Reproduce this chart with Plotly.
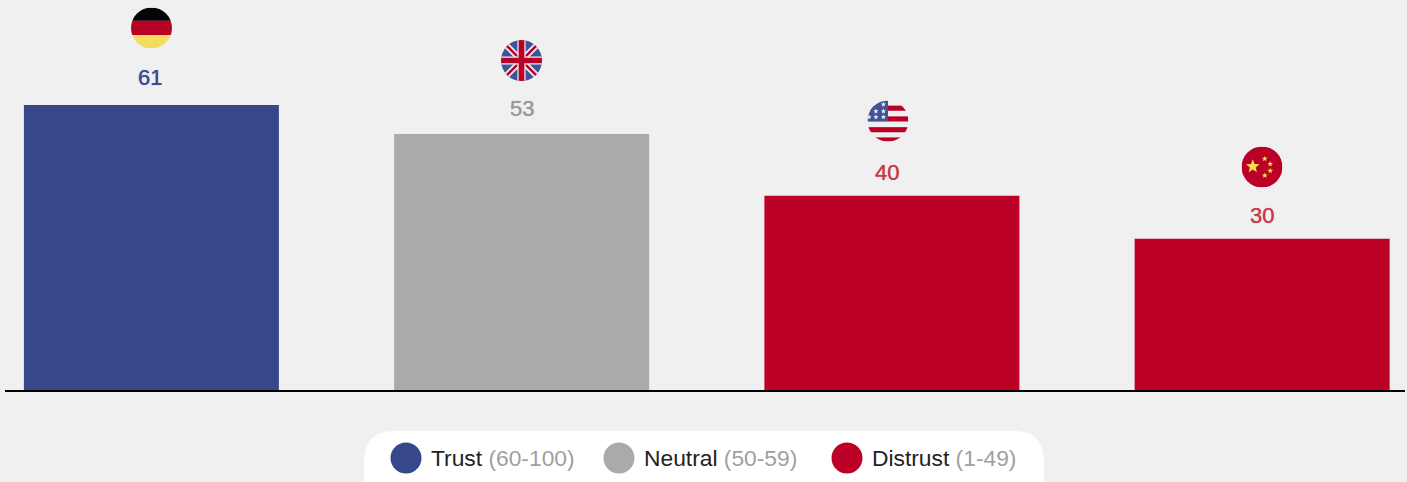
import base64
import math
import plotly.graph_objects as go

W, H = 1407, 482
ML, MR, MT, MB = 5, 2, 0, 92

countries = ["Germany", "United Kingdom", "United States", "China"]
scores = [61, 53, 40, 30]
# Bar lengths as drawn in the picture (they are not strictly proportional to the printed scores)
bar_lengths = [59.0, 53.0, 40.2, 31.3]
bands = ["Trust", "Neutral", "Distrust", "Distrust"]

legend_names = ["Trust", "Neutral", "Distrust"]
legend_ranges = ["(60-100)", "(50-59)", "(1-49)"]

BAND_COLOR = {"Trust": "#364889", "Neutral": "#aaaaaa", "Distrust": "#bc0026"}
LABEL_COLOR = {"Trust": "#3c4c8c", "Neutral": "#999999", "Distrust": "#c73a4c"}

PW, PH = W - ML - MR, H - MT - MB
STEP = 370.25
FIRST_CENTER = 151.4


def px(x):
    return (x - ML) / PW


def py(y):
    return 1 - (y - MT) / PH


def flag_uri(body):
    svg = (
        '<svg xmlns="http://www.w3.org/2000/svg" width="240" height="240" viewBox="0 0 40 40">'
        '<defs><clipPath id="c"><circle cx="20" cy="20" r="20"/></clipPath></defs>'
        f'<g clip-path="url(#c)">{body}</g></svg>'
    )
    return "data:image/svg+xml;base64," + base64.b64encode(svg.encode()).decode()


def star(cx, cy, r, fill):
    pts = []
    for i in range(10):
        a = -math.pi / 2 + i * math.pi / 5
        rr = r if i % 2 == 0 else r * 0.42
        pts.append(f"{cx + rr * math.cos(a):.2f},{cy + rr * math.sin(a):.2f}")
    return f'<polygon points="{" ".join(pts)}" fill="{fill}"/>'


de = (
    '<rect width="40" height="13" fill="#050505"/>'
    '<rect y="13" width="40" height="14" fill="#bb0027"/>'
    '<rect y="27" width="40" height="13" fill="#f3dc5e"/>'
)
uk = (
    '<rect width="40" height="40" fill="#3f5398"/>'
    '<path d="M0 0L40 40M40 0L0 40" stroke="#f0f0f0" stroke-width="6"/>'
    '<path d="M0 0L40 40M40 0L0 40" stroke="#bb0027" stroke-width="2.4"/>'
    '<path d="M20 0V40M0 20H40" stroke="#f0f0f0" stroke-width="8"/>'
    '<path d="M20 0V40M0 20H40" stroke="#bb0027" stroke-width="5.6"/>'
)
us_stripes = "".join(
    f'<rect y="{y}" width="40" height="5" fill="#bb0027"/>' for y in [5, 15.5, 26, 36]
)
us_stars = "".join(
    star(x, y, 2.7, "#f2f2f2")
    for x, y in [(15.5, 3.8), (8.2, 10.5), (15.5, 10.5), (1.5, 16.2), (8.2, 16.2), (15.5, 16.2)]
)
us = (
    '<rect width="40" height="40" fill="#f0f0f0"/>' + us_stripes
    + '<rect width="20" height="20" fill="#3f5398"/>' + us_stars
)
cn = (
    '<rect width="40" height="40" fill="#bb0027"/>'
    + star(11, 19.5, 7, "#f6dc4f")
    + star(22.7, 12, 3, "#f6dc4f")
    + star(28, 17, 3, "#f6dc4f")
    + star(28, 23.7, 3, "#f6dc4f")
    + star(22.7, 28.3, 3, "#f6dc4f")
)
flags = [de, uk, us, cn]
flag_centers = [(151.5, 28), (521.5, 60.5), (888, 121), (1262, 167)]
label_centers = [(150, 78), (521.5, 108), (887, 172), (1262, 215)]
legend_dots = [406, 619, 847]
legend_text_x = [429, 642, 870]

fig = go.Figure(
    go.Bar(
        x=countries,
        y=bar_lengths,
        width=255 / STEP,
        marker=dict(color=[BAND_COLOR[b] for b in bands], line=dict(width=0)),
        hoverinfo="skip",
    )
)

shapes = [
    dict(
        type="path",
        xref="paper",
        yref="paper",
        layer="below",
        fillcolor="#ffffff",
        line=dict(width=0),
        path=(
            f"M{px(394)},{py(431)} L{px(1014)},{py(431)} "
            f"Q{px(1044)},{py(431)} {px(1044)},{py(461)} "
            f"L{px(1044)},{py(490)} L{px(364)},{py(490)} L{px(364)},{py(461)} "
            f"Q{px(364)},{py(431)} {px(394)},{py(431)} Z"
        ),
    )
]
annotations = []
for name, rng, dot, tx in zip(legend_names, legend_ranges, legend_dots, legend_text_x):
    shapes.append(
        dict(
            type="circle",
            xref="paper",
            yref="paper",
            x0=px(dot - 15.5),
            x1=px(dot + 15.5),
            y0=py(458 + 15.5),
            y1=py(458 - 15.5),
            fillcolor=BAND_COLOR[name],
            line=dict(width=0),
        )
    )
    annotations.append(
        dict(
            xref="paper",
            yref="paper",
            x=px(tx),
            y=py(458),
            xanchor="left",
            yanchor="middle",
            showarrow=False,
            text=f"{name} <span style='color:#a0a0a0'>{rng}</span>",
            font=dict(family="Liberation Sans, Arial, sans-serif", size=22.8, color="#222222"),
        )
    )

for score, band, (lx, ly) in zip(scores, bands, label_centers):
    annotations.append(
        dict(
            xref="paper",
            yref="paper",
            x=px(lx),
            y=py(ly),
            xanchor="center",
            yanchor="middle",
            showarrow=False,
            text=str(score),
            font=dict(
                family="Liberation Sans, Arial, sans-serif",
                size=22,
                color=LABEL_COLOR[band],
                shadow=f"0 0 0.7px {LABEL_COLOR[band]}",
            ),
        )
    )

images = []
for body, (fx, fy) in zip(flags, flag_centers):
    images.append(
        dict(
            source=flag_uri(body),
            xref="paper",
            yref="paper",
            x=px(fx),
            y=py(fy),
            sizex=41 / PW,
            sizey=41 / PH,
            xanchor="center",
            yanchor="middle",
            sizing="stretch",
            layer="above",
        )
    )

fig.update_layout(
    width=W,
    height=H,
    margin=dict(l=ML, r=MR, t=MT, b=MB, pad=0),
    paper_bgcolor="#f0f0f0",
    plot_bgcolor="#f0f0f0",
    showlegend=False,
    shapes=shapes,
    annotations=annotations,
    images=images,
    xaxis=dict(
        type="category",
        categoryorder="array",
        categoryarray=countries,
        range=[-(FIRST_CENTER - ML) / STEP, (W - MR - FIRST_CENTER) / STEP],
        showticklabels=False,
        ticks="",
        showgrid=False,
        zeroline=False,
        showline=True,
        linecolor="#000000",
        linewidth=2,
    ),
    yaxis=dict(
        range=[0, PH / 4.83],
        visible=False,
        showgrid=False,
        zeroline=False,
    ),
)

fig.write_html(
    "out.html",
    config={"displayModeBar": False},
    post_script="document.body.style.margin='0';document.documentElement.style.overflow='hidden';document.documentElement.style.background='#f0f0f0';",
)
